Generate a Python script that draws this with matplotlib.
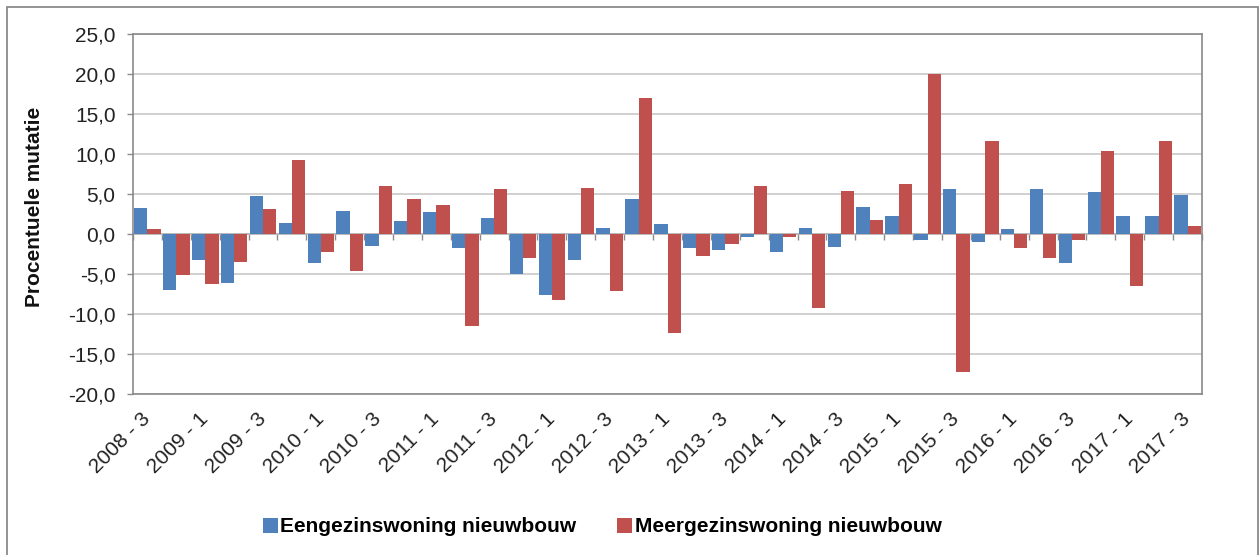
import matplotlib
matplotlib.use("Agg")
import matplotlib.pyplot as plt
from matplotlib.patches import Rectangle
from matplotlib.ticker import FuncFormatter, FixedLocator, NullFormatter
import numpy as np

plt.rcParams['font.family'] = ['Liberation Sans', 'DejaVu Sans']

quarters = [
    "2008 - 3", "2008 - 4",
    "2009 - 1", "2009 - 2", "2009 - 3", "2009 - 4",
    "2010 - 1", "2010 - 2", "2010 - 3", "2010 - 4",
    "2011 - 1", "2011 - 2", "2011 - 3", "2011 - 4",
    "2012 - 1", "2012 - 2", "2012 - 3", "2012 - 4",
    "2013 - 1", "2013 - 2", "2013 - 3", "2013 - 4",
    "2014 - 1", "2014 - 2", "2014 - 3", "2014 - 4",
    "2015 - 1", "2015 - 2", "2015 - 3", "2015 - 4",
    "2016 - 1", "2016 - 2", "2016 - 3", "2016 - 4",
    "2017 - 1", "2017 - 2", "2017 - 3",
]

eengezins = [
    3.2, -7.0,
    -3.2, -6.1, 4.7, 1.4,
    -3.6, 2.9, -1.5, 1.6,
    2.7, -1.8, 2.0, -5.0,
    -7.6, -3.2, 0.8, 4.4,
    1.2, -1.8, -2.0, -0.4,
    -2.3, 0.8, -1.6, 3.4,
    2.2, -0.7, 5.6, -1.0,
    0.6, 5.6, -3.6, 5.2,
    2.2, 2.2, 4.9,
]

meergezins = [
    0.6, -5.1,
    -6.2, -3.5, 3.1, 9.2,
    -2.3, -4.6, 6.0, 4.4,
    3.6, -11.5, 5.6, -3.0,
    -8.3, 5.8, -7.1, 17.0,
    -12.4, -2.8, -1.2, 6.0,
    -0.4, -9.2, 5.4, 1.8,
    6.2, 20.0, -17.2, 11.6,
    -1.7, -3.0, -0.7, 10.4,
    -6.5, 11.6, 1.0,
]

series_names = ["Eengezinswoning nieuwbouw", "Meergezinswoning nieuwbouw"]
series_colors = ["#4F81BD", "#C0504D"]
y_ticks = [-20, -15, -10, -5, 0, 5, 10, 15, 20, 25]

W, H = 1260, 555
fig = plt.figure(figsize=(W / 100, H / 100), dpi=100)
fig.patch.set_facecolor("white")

# outer chart frame
fig.add_artist(Rectangle((7 / W, -0.02), (1258 - 7) / W, 1 - 7 / H + 0.02,
                         transform=fig.transFigure, fill=False,
                         edgecolor="#8a8a8a", linewidth=1.3))

left, right, top, bottom = 133, 1202, 34, 394
ax = fig.add_axes([left / W, 1 - bottom / H, (right - left) / W, (bottom - top) / H])

x = np.arange(len(quarters))
bw = 0.46
ax.bar(x - bw / 2, eengezins, width=bw, color=series_colors[0], label=series_names[0], zorder=3)
ax.bar(x + bw / 2, meergezins, width=bw, color=series_colors[1], label=series_names[1], zorder=3)

ax.set_xlim(-0.5, len(quarters) - 0.5)
ax.set_ylim(y_ticks[0], y_ticks[-1])
ax.set_yticks(y_ticks)
ax.yaxis.set_major_formatter(FuncFormatter(lambda v, p: f"{v:.1f}".replace(".", ",")))
ax.grid(axis="y", color="#c4c4c4", linewidth=1.1, zorder=0)
ax.set_axisbelow(True)

for s in ax.spines.values():
    s.set_color("#8a8a8a")
    s.set_linewidth(1.2)

ax.tick_params(axis="y", direction="out", length=4.5, width=1.0, color="#8a8a8a",
               pad=8, labelsize=15, labelcolor="#222222")

# category labels at every second quarter, below the plot area
label_pos = x[::2]
ax.set_xticks(label_pos)
ax.set_xticklabels([quarters[i] for i in label_pos], rotation=45, ha="right",
                   va="center", rotation_mode="anchor", fontsize=15, color="#222222")
ax.tick_params(axis="x", length=0, pad=16)

# category axis crossing at zero with tick marks between quarters
zero_loc = (0 - y_ticks[0]) / (y_ticks[-1] - y_ticks[0])
cat_axis = ax.secondary_xaxis(zero_loc)
cat_axis.xaxis.set_major_locator(FixedLocator(np.arange(-0.5, len(quarters), 1.0)))
cat_axis.xaxis.set_major_formatter(NullFormatter())
cat_axis.tick_params(axis="x", direction="out", length=4, width=1.0, color="#8a8a8a")
cat_axis.spines["bottom"].set_color("#8a8a8a")
cat_axis.spines["bottom"].set_linewidth(1.2)

ax.set_ylabel("Procentuele mutatie", fontsize=15, fontweight="bold", color="#111111")
ax.yaxis.set_label_coords((44 - left) / (right - left), (bottom - 207) / (bottom - top))

fig.legend(loc="center", bbox_to_anchor=(602 / W, 1 - 527 / H), ncol=2, frameon=False,
           prop={"size": 15, "weight": "bold"}, handlelength=0.72, handleheight=0.72,
           handletextpad=0.1, columnspacing=2.0, borderaxespad=0)

fig.savefig("out.png", dpi=100)
